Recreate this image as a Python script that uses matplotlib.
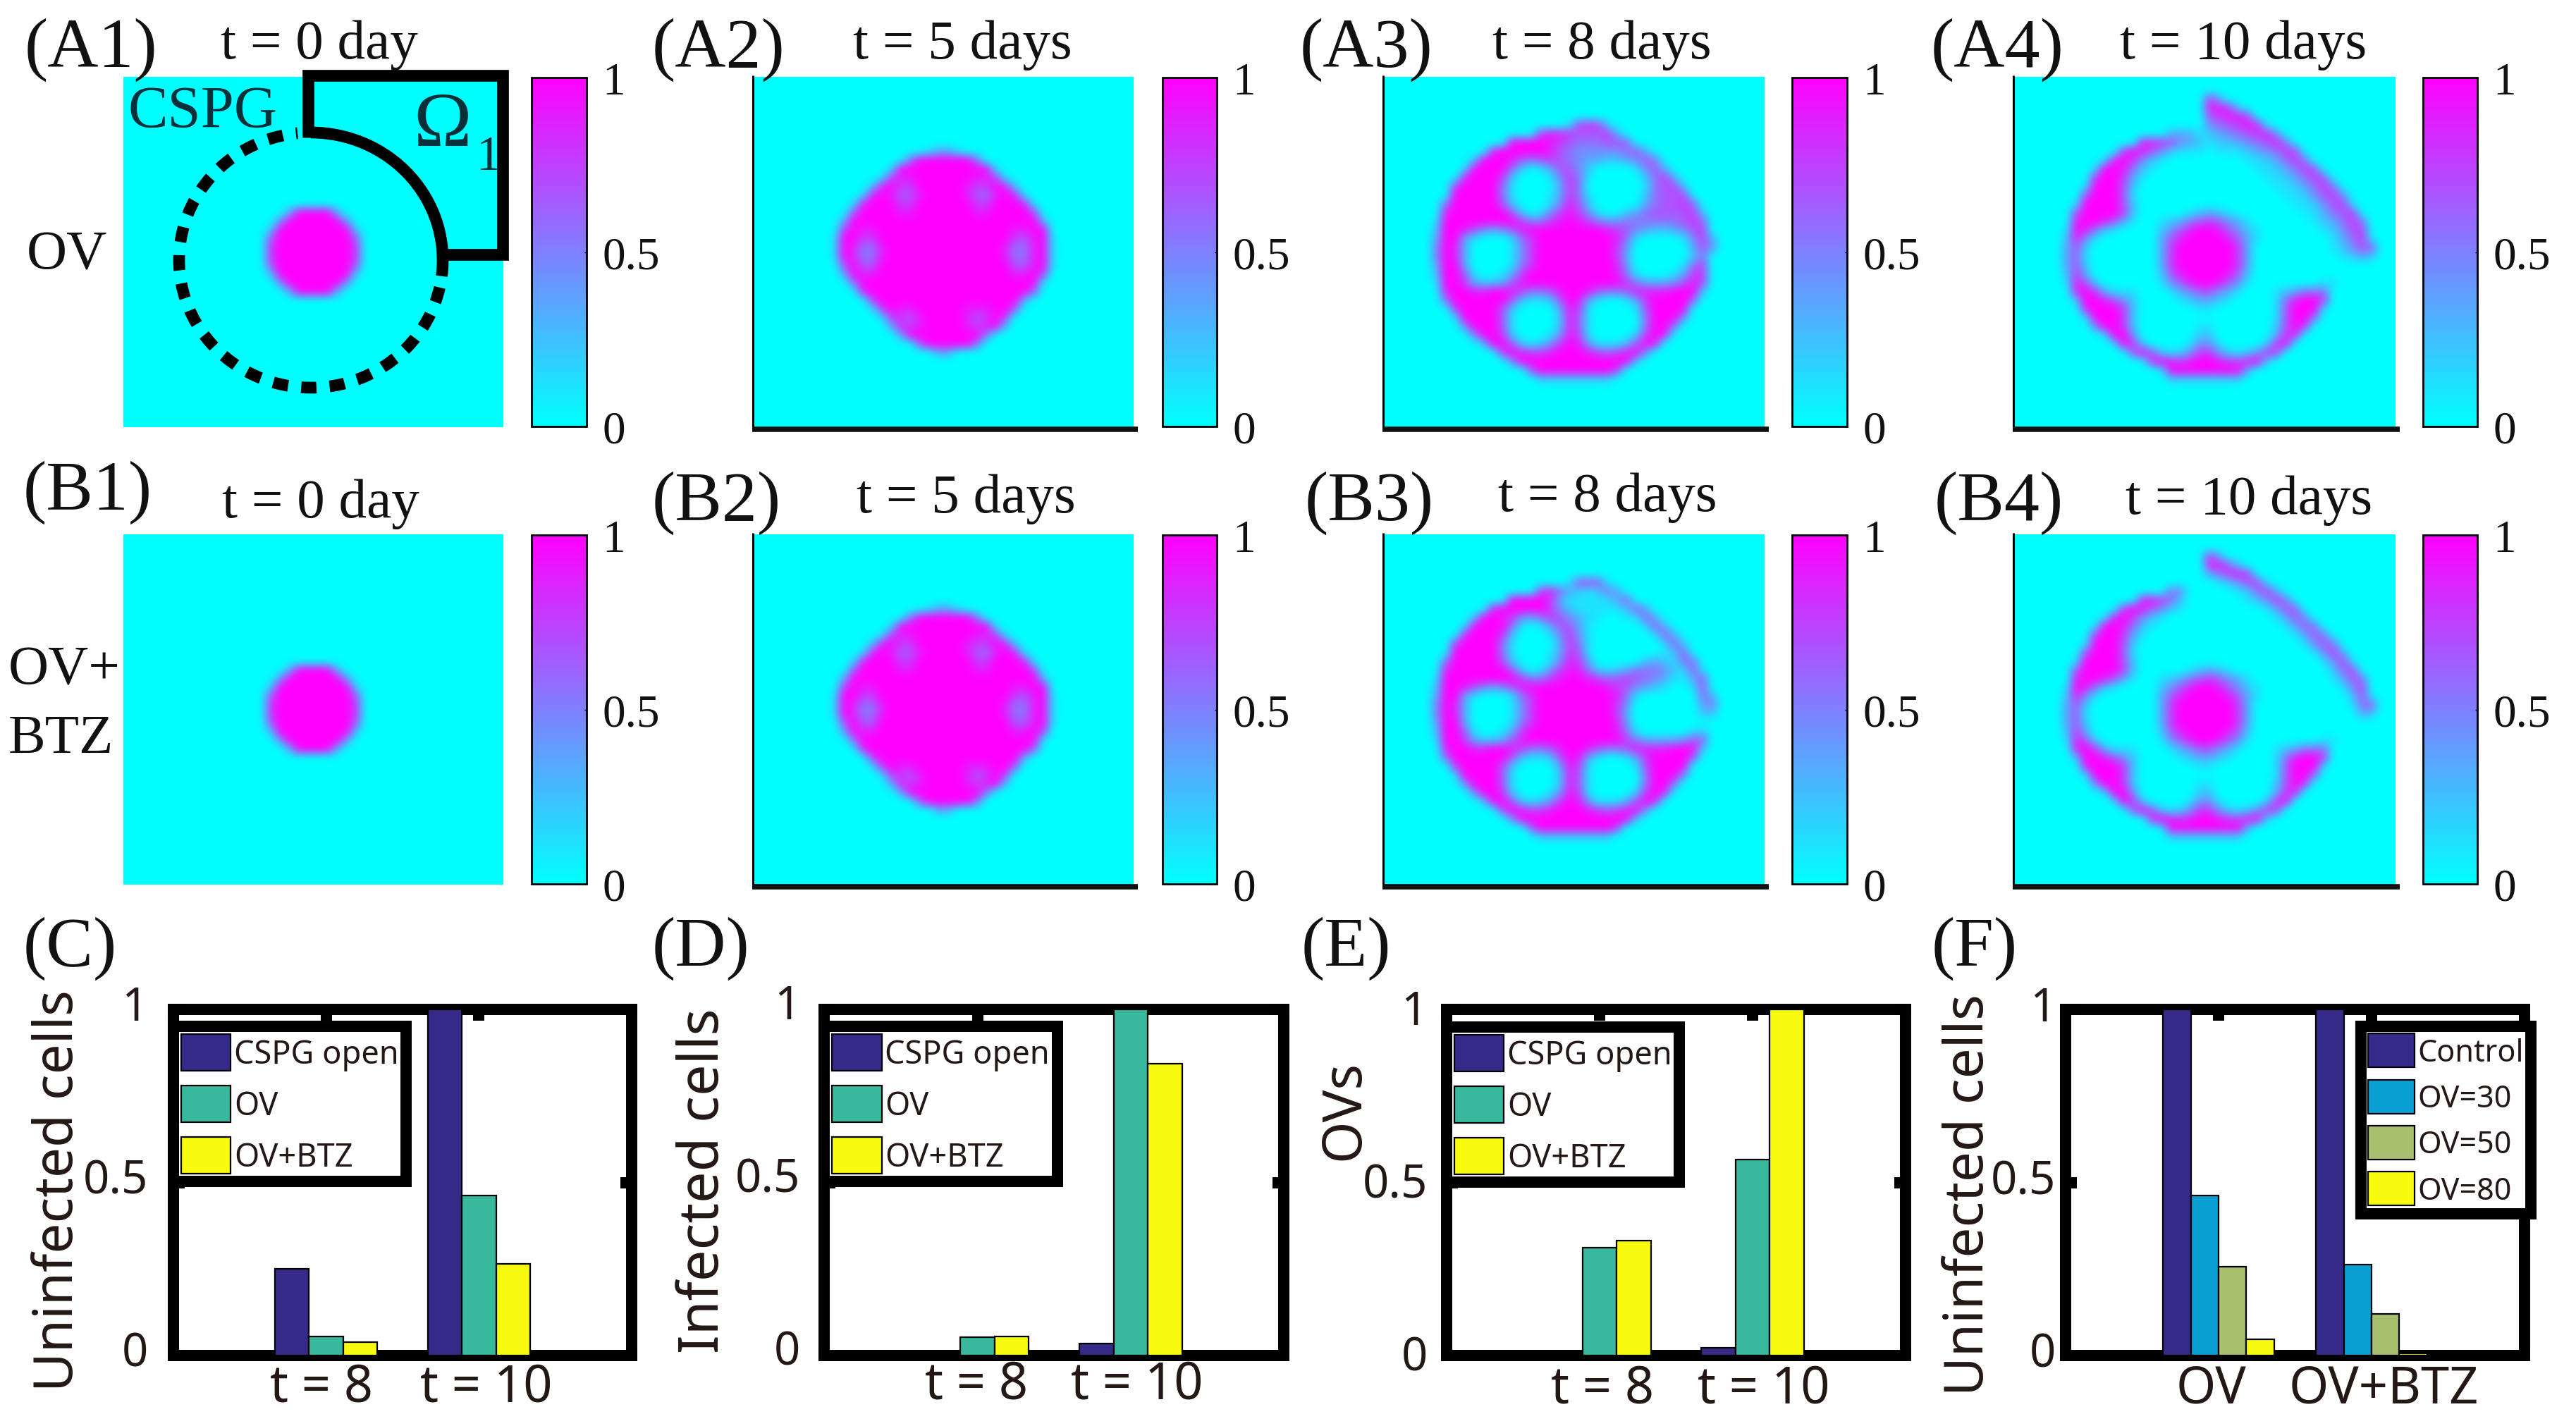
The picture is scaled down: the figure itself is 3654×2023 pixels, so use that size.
import numpy as np
import matplotlib
matplotlib.use("Agg")
import matplotlib.pyplot as plt
from matplotlib.patches import Arc
from matplotlib.transforms import ScaledTranslation

W, H = 3655, 2024
DPI = 100
SERIF = "Liberation Serif"
SANS = "Noto Sans"
INK = "#231815"
TEAL_TXT = "#07303a"

# ---------- bar chart data ----------
TIMES = ["t = 8", "t = 10"]
SERIES_TIME = ["CSPG open", "OV", "OV+BTZ"]
COLORS_TIME = ["#352a87", "#38b99e", "#f9fb0e"]
UNINFECTED_C = [[0.25, 1.0], [0.054, 0.462], [0.038, 0.264]]
INFECTED_D = [[0.0, 0.034], [0.052, 1.0], [0.054, 0.844]]
OVS_E = [[0.0, 0.022], [0.311, 0.566], [0.332, 1.0]]
TREATMENTS = ["OV", "OV+BTZ"]
SERIES_DOSE = ["Control", "OV=30", "OV=50", "OV=80"]
COLORS_DOSE = ["#352a87", "#0a9fd3", "#a7bf6e", "#f9fb0e"]
UNINFECTED_F = [[1.0, 1.0], [0.462, 0.262], [0.257, 0.121], [0.047, 0.007]]

# ---------- heat maps, 40 x 40 cells, digits 0-9 = 0..1 ----------
BLANK = "0"
FIELD_T0 = [BLANK] * 15 + [
    "0000000000 0000000399 9930000000",
    "0000000000 0000004999 9994000000",
    "0000000000 0000029999 9999200000",
    "0000000000 0000069999 9999600000",
    "0000000000 0000079999 9999700000",
    "0000000000 0000079999 9999700000",
    "0000000000 0000069999 9999600000",
    "0000000000 0000029999 9999200000",
    "0000000000 0000004999 9994000000",
    "0000000000 0000000399 9930000000",
] + [BLANK] * 15

FIELD_T5 = [BLANK] * 8 + [
    "0000000000 0000000013 3100000000",
    "0000000000 0000005999 9995000000",
    "0000000000 0000199999 9999910000",
    "0000000000 0001788999 9998871000",
    "0000000000 0028977999 9987798200",
    "0000000000 0189866899 9986589810",
    "0000000000 1899977999 9997799981",
    "0000000000 6999988999 9998899997",
    "0000000003 9999999999 9999999999 3",
    "0000000007 9889999999 9999999889 9",
    "0000000019 9779999999 9999999768 91",
    "0000000019 8558999999 9999998558 91",
    "0000000019 8558999999 9999998558 91",
    "0000000006 9669999999 9999999668 91",
    "0000000003 9889999999 9999999889 7",
    "0000000000 5999999999 9999999999 1",
    "0000000000 0899999999 9999999996",
    "0000000000 0079999999 9999999930",
    "0000000000 0017988999 9988899600",
    "0000000000 0001776899 9986797000",
    "0000000000 0000387899 9987892000",
    "0000000000 0000039999 9999500000",
    "0000000000 0000000699 9995000000",
    "0000000000 0000000003 3000000000",
] + [BLANK] * 8

FIELD_A3 = [BLANK] * 5 + [
    "0000000000 0000000001 7772000000",
    "0000000000 0000007887 6667300000",
    "0000000000 0009999876 5556660000",
    "0000000000 0899999865 4444456300",
    "0000000002 9998656765 4332234650",
    "0000000019 9995201366 4200001463",
    "0000000089 9972000147 5100000257 3",
    "0000000799 9951000037 5000000156 72",
    "0000000999 9951000137 5100000256 67",
    "0000005999 9962000148 6200000356 676",
    "0000008999 9996201478 7410023566 6672",
    "0000019999 9999755789 8754455555 5676",
    "0000029986 4346899999 9998764322 3467",
    "0000039931 0001579999 9999851000 01473",
    "0000049830 0001479999 9999740000 00364",
    "0000049830 0001479999 9999730000 0025",
    "0000039930 0001579999 9999840000 0157",
    "0000029961 0013799999 9999851000 1377",
    "0000019973 2236899999 9999975333 4687",
    "0000008998 8998755689 9865568888 9992",
    "0000005999 9996211269 8310013799 996",
    "0000000799 9962000038 7100001699 99",
    "0000000199 9961000028 6100000599 94",
    "0000000049 9961000028 6100000599 5",
    "0000000004 9972000148 7100002798",
    "0000000000 2996212479 8411136980",
    "0000000000 0079877899 9876789400",
    "0000000000 0004999999 9999992000",
    "0000000000 0000069999 9999700000",
    "0000000000 0000002222 2222000000",
] + [BLANK] * 5

FIELD_A4 = [BLANK] * 2 + [
    "0000000000 0000000000 7300000000",
    "0000000000 0000000000 8872000000",
    "0000000000 0000000000 6788700000",
    "0000000000 0000000000 4567881000",
    "0000000000 0000003331 2345678400",
    "0000000000 0008876432 1223456850",
    "0000000000 0798642111 0111234577",
    "0000000001 8974210000 0000112357 5",
    "0000000019 9852100000 0000011235 76",
    "0000000079 9731000000 0000001123 576",
    "0000000199 9620000000 0000000112 3575",
    "0000000699 9610000000 0000000011 24674",
    "0000001999 9620000000 0000000001 124671",
    "0000006999 9720000012 3210000000 113567",
    "0000008998 6310012356 7643100000 0123575",
    "0000019852 1000024689 9864210000 0012467",
    "0000028410 0000036899 9986310000 00013571",
    "0000036200 0000037999 9997300000 00012466",
    "0000036100 0000037999 9997300000 00001232",
    "0000036200 0000037999 9997300000",
    "0000027300 0000026899 9986200000",
    "0000018620 0000014689 9864100000 0011",
    "0000008973 1110001346 6431000123 555",
    "0000002998 6420000123 3210000158 997",
    "0000000899 9720000001 1000000169 991",
    "0000000199 9720000000 0000000169 95",
    "0000000049 9720000001 1000000269 7",
    "0000000001 9940000002 2000000378",
    "0000000000 1972000014 4100002790",
    "0000000000 0069621247 7421247700",
    "0000000000 0000898789 9877892000",
    "0000000000 0000019999 9999300000",
    "0000000000 0000002222 2222000000",
] + [BLANK] * 5

FIELD_B3 = [BLANK] * 5 + [
    "0000000000 0000000001 6661000000",
    "0000000000 0000007853 2125300000",
    "0000000000 0009999731 1111360000",
    "0000000000 0899999742 1111126300",
    "0000000002 9987435764 3110011630",
    "0000000019 9995101366 3100000163",
    "0000000089 9972000147 4100000016 3",
    "0000000799 9951000037 5100000001 62",
    "0000000999 9951000137 6100000001 26",
    "0000005999 9962000148 7300000232 155",
    "0000008999 9996201478 8521235554 2161",
    "0000019999 9999755789 9876676543 1136",
    "0000029986 4346899999 9998764321 0016",
    "0000039931 0001579999 9999851000 00053",
    "0000049830 0001479999 9999740000 00035",
    "0000049830 0001479999 9999730000 00022",
    "0000039930 0001579999 9999840000",
    "0000029961 0013799999 9999851000 0012",
    "0000019973 2236899999 9999975333 3466",
] + FIELD_A3[24:]

FIELD_B4 = [BLANK] * 2 + [
    "0000000000 0000000000 7300000000",
    "0000000000 0000000000 8862000000",
    "0000000000 0000000000 3578700000",
    "0000000000 0000000000 0124671000",
    "0000000000 0000005400 0001257300",
    "0000000000 0008875200 0000124750",
    "0000000000 0798642100 0000001366",
    "0000000001 8974210000 0000000136 4",
    "0000000019 9852100000 0000000013 65",
    "0000000079 9731000000 0000000001 365",
    "0000000199 9620000000 0000000000 1465",
    "0000000699 9610000000 0000000000 01473",
    "0000001999 9620000000 0000000000 001471",
    "0000006999 9720000012 3210000000 000257",
    "0000008998 6310012356 7643100000 0001365",
    "0000019852 1000024689 9864210000 0000147",
    "0000028410 0000036899 9986310000 00000261",
    "0000036200 0000037999 9997300000 00000156",
    "0000036100 0000037999 9997300000 00000032",
] + FIELD_A4[21:]

PANEL_FIELDS = [FIELD_T0, FIELD_T5, FIELD_A3, FIELD_A4, FIELD_T0, FIELD_T5, FIELD_B3, FIELD_B4]
CBAR_TICKS = [0, 0.5, 1]
CBAR_LABELS = ["0", "0.5", "1"]


def field(rows):
    out = []
    for r in rows:
        r = r.replace(" ", "").ljust(40, "0")[:40]
        out.append([int(c) / 9 for c in r])
    while len(out) < 40:
        out.append([0.0] * 40)
    return np.array(out[:40])


fig = plt.figure(figsize=(W / DPI, H / DPI), dpi=DPI, facecolor="white")


def ax_px(l, t, r, b, **kw):
    return fig.add_axes([l / W, 1 - b / H, (r - l) / W, (b - t) / H], **kw)


overlay = fig.add_axes([0, 0, 1, 1], zorder=20)
overlay.set_xlim(0, W)
overlay.set_ylim(H, 0)
overlay.axis("off")
overlay.patch.set_alpha(0)

# ---------- heat maps ----------
HEAT_X = [(175, 714), (1069, 1608), (1963, 2503), (2857, 3398)]
CBAR_X = [(754, 832), (1649, 1726), (2542, 2620), (3437, 3514)]
ROW_Y = [(110, 607), (759, 1256)]
CBAR_Y = [(111, 606), (760, 1255)]

for i, rows in enumerate(PANEL_FIELDS):
    row, col = divmod(i, 4)
    l, r = HEAT_X[col]
    t, b = ROW_Y[row]
    ax = ax_px(l, t, r, b)
    im = ax.imshow(field(rows), cmap="cool", vmin=0, vmax=1, aspect="auto", interpolation="bicubic")
    ax.set_xticks([])
    ax.set_yticks([])
    for s in ax.spines.values():
        s.set_visible(False)
    if col > 0:
        overlay.plot([l - 1, l - 1], [t - 2, b], color="black", lw=2.2, solid_capstyle="butt")
        overlay.plot([l - 2, r + 6], [b + 3, b + 3], color="#111111", lw=5.5, solid_capstyle="butt")
    cl, cr = CBAR_X[col]
    ct, cb = CBAR_Y[row]
    cax = ax_px(cl, ct, cr, cb)
    cbar = fig.colorbar(im, cax=cax, ticks=CBAR_TICKS)
    cbar.ax.set_yticklabels(CBAR_LABELS, family=SERIF, fontsize=47, color="#111111")
    cbar.ax.tick_params(length=2, width=1, direction="in", pad=16)
    cbar.outline.set_linewidth(2)
    cbar.outline.set_edgecolor("black")

# ---------- serif annotations ----------
PANEL_LABELS = [("(A1)", 35, 71), ("(A2)", 925, 71), ("(A3)", 1844, 71), ("(A4)", 2739, 71),
                ("(B1)", 33, 699), ("(B2)", 925, 714), ("(B3)", 1851, 714), ("(B4)", 2744, 714),
                ("(C)", 33, 1346), ("(D)", 925, 1346), ("(E)", 1846, 1346), ("(F)", 2740, 1346)]
TITLES = [("t = 0 day", 453, 64), ("t = 5 days", 1365, 64), ("t = 8 days", 2272, 64), ("t = 10 days", 3182, 64),
          ("t = 0 day", 455, 715), ("t = 5 days", 1370, 708), ("t = 8 days", 2280, 706), ("t = 10 days", 3190, 710)]
for s, x, y in PANEL_LABELS:
    overlay.text(x, y, s, family=SERIF, fontsize=72, ha="left", va="center", color="#111111")
for s, x, y in TITLES:
    overlay.text(x, y, s, family=SERIF, fontsize=57, ha="center", va="center", color="#111111")
overlay.text(38, 363, "OV", family=SERIF, fontsize=57, ha="left", va="center", color="#111111")
overlay.text(12, 952, "OV+", family=SERIF, fontsize=57, ha="left", va="center", color="#111111")
overlay.text(12, 1049, "BTZ", family=SERIF, fontsize=57, ha="left", va="center", color="#111111")
overlay.text(182, 160, "CSPG", family=SERIF, fontsize=61, ha="left", va="center", color=TEAL_TXT)
overlay.text(586, 180, "\u03a9", family=SERIF, fontsize=80, ha="left", va="center", color=TEAL_TXT)
overlay.text(676, 224, "1", family=SERIF, fontsize=50, ha="left", va="center", color=TEAL_TXT)

# ---------- CSPG boundary sketch on A1 ----------
STROKE = 12
overlay.plot([437, 437, 713, 713, 628], [196, 108, 108, 362, 362], color="black", lw=STROKE,
             solid_joinstyle="miter", solid_capstyle="butt")
overlay.add_patch(Arc((441, 370), 374, 362, theta1=-90, theta2=7, color="black", lw=STROKE, capstyle="butt"))
overlay.add_patch(Arc((441, 370), 374, 362, theta1=12, theta2=264, color="black", lw=STROKE,
                      linestyle=(0, (1.3, 1.12)), capstyle="butt"))


# ---------- bars ----------
def bar_panel(left, right, names, series, colors, values, width, ylabel, ylab_xy, ylab_fs, ytick_dy, yt_pad,
              xt_dx, xt_dy, legend_xy, legend_fs, handle, spacing):
    ax = ax_px(left, 1433, right, 1924)
    vals = np.array(values)
    n = len(series)
    pos = np.arange(1, len(names) + 1)
    for i in range(n):
        ax.bar(pos + (i - (n - 1) / 2) * width, vals[i], width, color=colors[i], edgecolor="black",
               linewidth=1.6, zorder=3, label=series[i])
    ax.set_xlim(0, 3)
    ax.set_ylim(0, 1)
    ax.set_xticks(pos)
    ax.set_xticklabels(names, family=SANS, fontsize=52, color=INK)
    ax.set_yticks([0, 0.5, 1])
    ax.set_yticklabels(["0", "0.5", "1"], family=SANS, fontsize=47, color=INK)
    ax.tick_params(direction="in", top=True, right=True, length=11.5, width=11.5)
    ax.tick_params(axis="y", pad=yt_pad)
    ax.tick_params(axis="x", pad=2)
    for s in ax.spines.values():
        s.set_linewidth(11.5)
    for lab, dx in zip(ax.get_xticklabels(), xt_dx):
        lab.set_transform(lab.get_transform() + ScaledTranslation(dx / DPI, -xt_dy / DPI, fig.dpi_scale_trans))
    for lab in ax.get_yticklabels():
        lab.set_transform(lab.get_transform() + ScaledTranslation(0, ytick_dy / DPI, fig.dpi_scale_trans))
    ax.set_ylabel(ylabel, family=SANS, fontsize=ylab_fs, color=INK, va="center", rotation=90)
    ax.yaxis.set_label_coords(ylab_xy[0], ylab_xy[1], transform=overlay.transData)
    leg = ax.legend(loc="upper left", bbox_to_anchor=legend_xy, bbox_transform=overlay.transData,
                    borderaxespad=0, fancybox=False, framealpha=1, edgecolor="black",
                    prop={"family": SANS, "size": legend_fs}, handlelength=handle[0], handleheight=handle[1],
                    labelspacing=spacing, handletextpad=0.1, borderpad=0.24, labelcolor=INK)
    leg.get_frame().set_linewidth(11.5)
    leg.set_zorder(6)
    return ax


bar_panel(246, 896, TIMES, SERIES_TIME, COLORS_TIME, UNINFECTED_C, 0.2235, "Uninfected cells", (83, 1689), 55, 10, 26,
          (-7, 10), 6, (246, 1457), 32.5, (1.56, 1.395), 0.47)
bar_panel(1169.5, 1821, TIMES, SERIES_TIME, COLORS_TIME, INFECTED_D, 0.2235, "Infected cells", (999, 1675), 57, 12, 24.5,
          (-2, 9), 2, (1169.5, 1457), 32.5, (1.56, 1.395), 0.47)
bar_panel(2052, 2703, TIMES, SERIES_TIME, COLORS_TIME, OVS_E, 0.2235, "OVs", (1907, 1575), 55, 4, 19.5,
          (4, 16), 8, (2052, 1458), 32.5, (1.56, 1.395), 0.47)
bar_panel(2930, 3581, TREATMENTS, SERIES_DOSE, COLORS_DOSE, UNINFECTED_F, 0.182, "Uninfected cells", (2793, 1695), 55, 9, 10,
          (-10, 17), 8, (3349, 1457), 31, (1.53, 1.34), 0.37)

fig.savefig("out.png", dpi=DPI, facecolor="white")
